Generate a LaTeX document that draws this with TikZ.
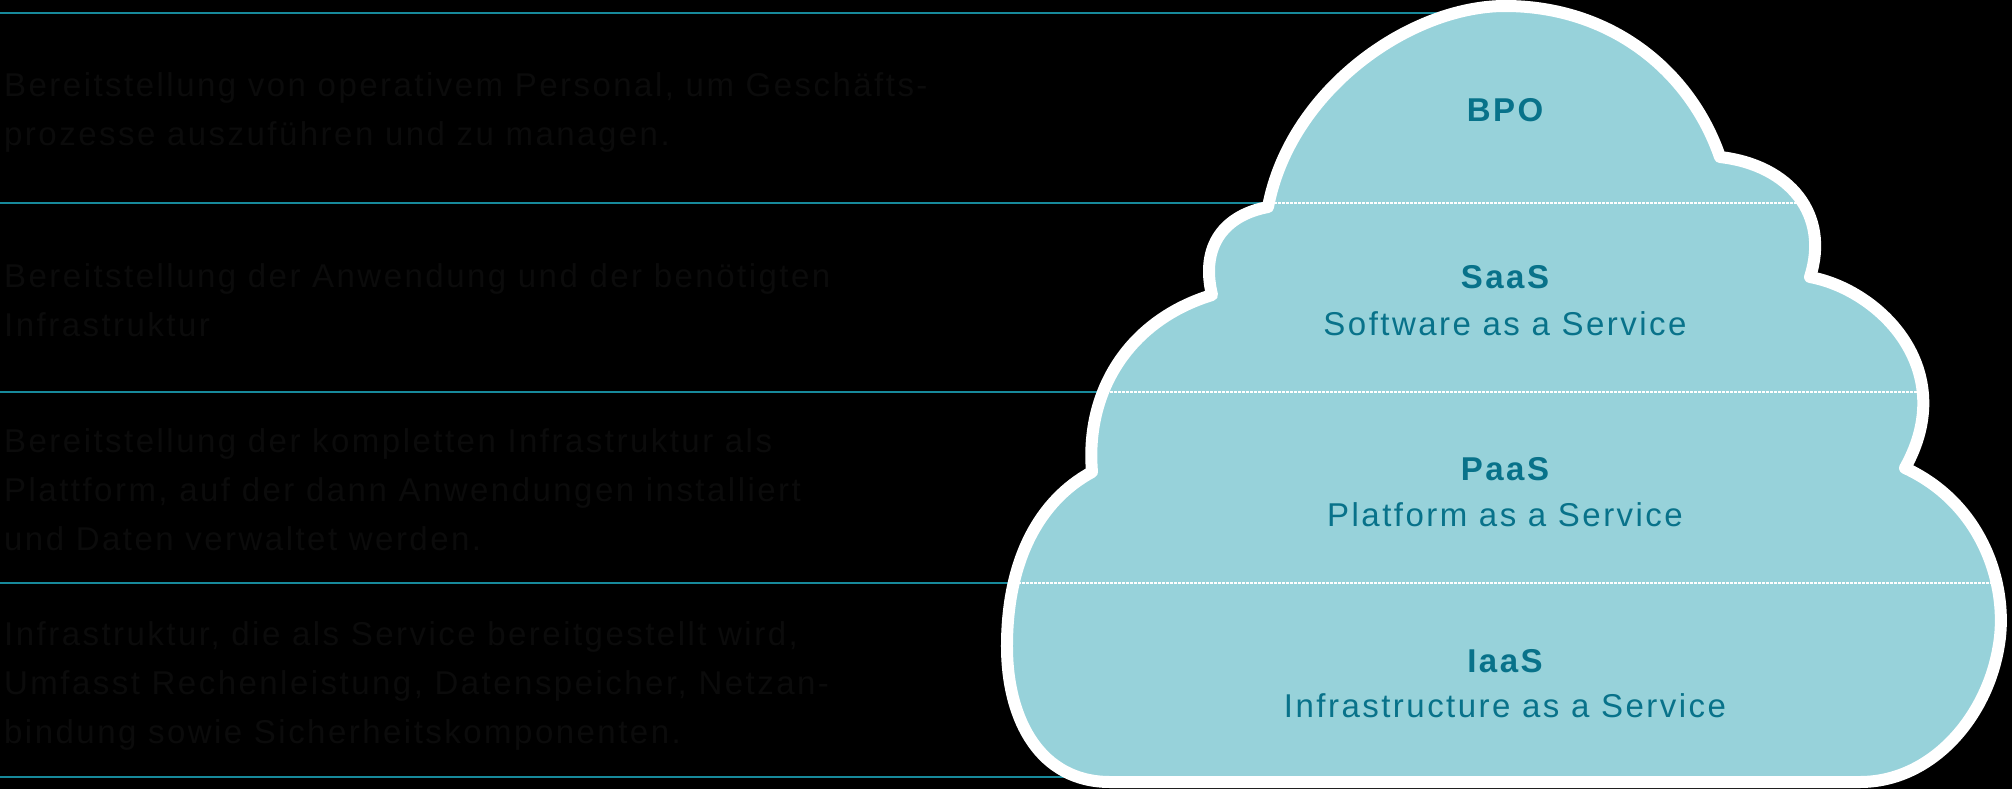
\documentclass[tikz,border=0pt]{standalone}
\usepackage{fontspec}
\setmainfont{Liberation Sans}[LetterSpace=7.5]
\definecolor{bandline}{HTML}{17899B}
\definecolor{cloudfill}{HTML}{97D2DA}
\definecolor{cloudtext}{HTML}{08728A}
\definecolor{bodytext}{HTML}{0B0B0B}
\tikzset{
  rule/.style={draw=bandline, line width=2.2pt},
  divider/.style={draw=white, line width=1.4pt, dash pattern=on 2.5pt off 1.5pt},
  outline/.style={draw=white, line width=12pt, line join=round},
  bodytxt/.style={anchor=north west, inner sep=0pt, align=left, text=bodytext,
    font=\fontsize{33}{49}\selectfont},
  headtxt/.style={anchor=base, inner sep=0pt, text=cloudtext,
    font=\fontsize{33}{40}\selectfont\bfseries},
  subtxt/.style={anchor=base, inner sep=0pt, text=cloudtext,
    font=\fontsize{33}{40}\selectfont},
}
\def\cloudpath{(1268,207) .. controls (1290,90) and (1410,6) .. (1505,6)
  .. controls (1610,6) and (1690,70) .. (1720,157)
  .. controls (1790,165) and (1830,215) .. (1810,277)
  .. controls (1880,290) and (1960,370) .. (1905,468)
  .. controls (1985,505) and (2010,590) .. (1998,650)
  .. controls (1985,720) and (1930,782) .. (1860,782)
  -- (1110,782)
  .. controls (1040,782) and (1008,720) .. (1007,650)
  .. controls (1006,560) and (1040,500) .. (1092,472)
  .. controls (1085,390) and (1130,320) .. (1212,295)
  .. controls (1200,245) and (1225,215) .. cycle}
\begin{document}
\begin{tikzpicture}[x=1pt,y=-1pt]
\fill[black] (0,0) rectangle (2012,789);
\useasboundingbox (0,0) rectangle (2012,789);
% band rules (each ends behind the cloud)
\foreach \yy/\xe in {13/1470,203/1330,392/1150,583/1060,777/1150} \draw[rule] (0,\yy) -- (\xe,\yy);
% cloud
\fill[cloudfill] \cloudpath;
\begin{scope}
  \clip \cloudpath;
  \foreach \yy in {203,392,583} \draw[divider] (990,\yy) -- (2012,\yy);
\end{scope}
\draw[outline] \cloudpath;
% cloud labels
\node[headtxt] (bpo) at (1505,122) {BPO};
\node[headtxt] (saas) at (1505,288) {SaaS};
\node[subtxt] (saasl) at (1505,335) {Software as a Service};
\node[headtxt] (paas) at (1505,480) {PaaS};
\node[subtxt] (paasl) at (1505,526) {Platform as a Service};
\node[headtxt] (iaas) at (1505,672) {IaaS};
\node[subtxt] (iaasl) at (1505,717) {Infrastructure as a Service};
% descriptions
\node[bodytxt] (dbpo) at (4,72) {Bereitstellung von operativem Personal, um Geschäfts-\\prozesse auszuführen und zu managen.};
\node[bodytxt] (dsaas) at (4,263) {Bereitstellung der Anwendung und der benötigten\\Infrastruktur};
\node[bodytxt] (dpaas) at (4,428) {Bereitstellung der kompletten Infrastruktur als\\Plattform, auf der dann Anwendungen installiert\\und Daten verwaltet werden.};
\node[bodytxt] (diaas) at (4,621) {Infrastruktur, die als Service bereitgestellt wird,\\Umfasst Rechenleistung, Datenspeicher, Netzan-\\bindung sowie Sicherheitskomponenten.};
\end{tikzpicture}
\end{document}
